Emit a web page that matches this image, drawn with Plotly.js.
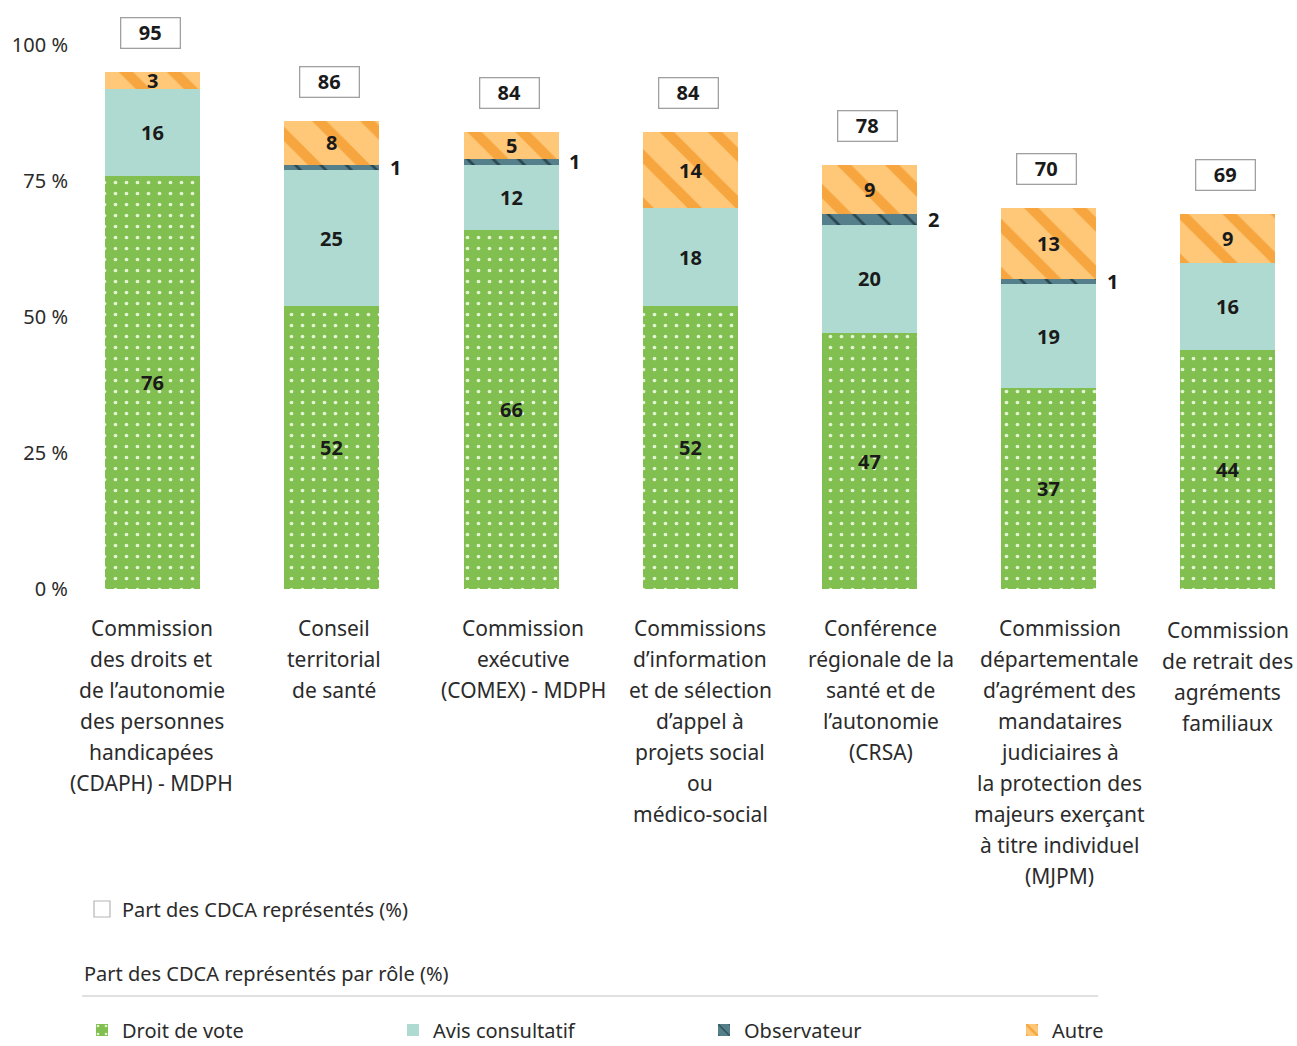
<!DOCTYPE html>
<html>
<head>
<meta charset="utf-8">
<script src="https://cdn.plot.ly/plotly-3.0.1.min.js"></script>
<style>html,body{margin:0;padding:0;background:#fff;}#chart{width:1297px;height:1046px;}</style>
</head>
<body>
<div id="chart"></div>
<script>
// ---------- DATA ----------
var categories = [
  "Commission<br>des droits et<br>de l’autonomie<br>des personnes<br>handicapées<br>(CDAPH) - MDPH",
  "Conseil<br>territorial<br>de santé",
  "Commission<br>exécutive<br>(COMEX) - MDPH",
  "Commissions<br>d’information<br>et de sélection<br>d’appel à<br>projets social<br>ou<br>médico-social",
  "Conférence<br>régionale de la<br>santé et de<br>l’autonomie<br>(CRSA)",
  "Commission<br>départementale<br>d’agrément des<br>mandataires<br>judiciaires à<br>la protection des<br>majeurs exerçant<br>à titre individuel<br>(MJPM)",
  "Commission<br>de retrait des<br>agréments<br>familiaux"
];
var droitDeVote      = [76, 52, 66, 52, 47, 37, 44];
var avisConsultatif  = [16, 25, 12, 18, 20, 19, 16];
var observateur      = [0, 1, 1, 0, 2, 1, 0];
var autre            = [3, 8, 5, 14, 9, 13, 9];
var totalRepresentes = [95, 86, 84, 84, 78, 70, 69];
var yTickValues = [0, 25, 50, 75, 100];
var yTickLabels = ["0 %", "25 %", "50 %", "75 %", "100 %"];
var seriesNames = ["Droit de vote", "Avis consultatif", "Observateur", "Autre"];
var totalLegendName = "Part des CDCA représentés (%)";
var roleLegendTitle = "Part des CDCA représentés par rôle (%)";

// ---------- LAYOUT GEOMETRY ----------
var W = 1297, H = 1046;
var mL = 99, mR = 0, mT = 45, mB = H - 589;
var plotW = W - mL - mR, plotH = H - mT - mB;
function pxX(px){ return (px - mL) / plotW; }
function pxY(py){ return (H - mB - py) / plotH; }
function cX(px){ return px / W; }
function cY(py){ return 1 - py / H; }

var FONT = "Noto Sans, Open Sans, sans-serif";
var TXT = "#2b2b2b";
var idx = categories.map(function(_, i){ return i; });
var labelShift = [-1, 2, 12, 10, 11, 11, 0];
var labelTop = [628, 628, 628, 628, 628, 628, 630];

var traces = [
  {type:"bar", name:seriesNames[0], x:idx, y:droitDeVote, legend:"legend2",
   marker:{color:"#80bf50", line:{width:0},
     pattern:{shape:".", bgcolor:"#80bf50", fgcolor:"#e4f3d4", fgopacity:1, size:11, solidity:0.09, fillmode:"replace"}},
   hoverinfo:"skip"},
  {type:"bar", name:seriesNames[1], x:idx, y:avisConsultatif, legend:"legend2",
   marker:{color:"#afdad2", line:{width:0}}, hoverinfo:"skip"},
  {type:"bar", name:seriesNames[2], x:idx, y:observateur, legend:"legend2",
   marker:{color:"#55808b", line:{width:0},
     pattern:{shape:"\\", bgcolor:"#55808b", fgcolor:"#2a474f", fgopacity:1, size:18, solidity:0.15, fillmode:"replace"}},
   hoverinfo:"skip"},
  {type:"bar", name:seriesNames[3], x:idx, y:autre, legend:"legend3",
   marker:{color:"#fec878", line:{width:0},
     pattern:{shape:"\\", bgcolor:"#fec878", fgcolor:"#f7a53e", fgopacity:1, size:34, solidity:0.3, fillmode:"replace"}},
   hoverinfo:"skip"},
  {type:"scatter", mode:"markers", name:totalLegendName, x:[null], y:[null], legend:"legend",
   marker:{symbol:"square", size:22, color:"#ffffff", line:{color:"#b5b5b5", width:1.2}}, hoverinfo:"skip"}
];

var annotations = [];
var series = [droitDeVote, avisConsultatif, observateur, autre];
idx.forEach(function(i){
  var base = 0;
  series.forEach(function(s, k){
    var v = s[i];
    if (v > 0) {
      var mid = base + v / 2;
      if (k === 2) {
        annotations.push({x:i, y:mid, xref:"x", yref:"y", text:"<b>"+v+"</b>", showarrow:false,
          xanchor:"left", xshift:56, font:{family:FONT, size:20, color:"#1a1a1a"}});
      } else {
        annotations.push({x:i, y:mid, xref:"x", yref:"y", text:"<b>"+v+"</b>", showarrow:false,
          font:{family:FONT, size:20, color:"#1a1a1a"}});
      }
    }
    base += v;
  });
  annotations.push({x:i, y:totalRepresentes[i], xref:"x", yref:"y", text:"<b>"+totalRepresentes[i]+"</b>",
    showarrow:false, yanchor:"bottom", yshift:23, xshift:-2, width:54, height:25, borderpad:2,
    bordercolor:"#a0a0a0", borderwidth:1.3, bgcolor:"#ffffff", font:{family:FONT, size:20, color:"#1a1a1a"}});
  categories[i].split("<br>").forEach(function(line, k){
    annotations.push({x:i, y:pxY(labelTop[i] + 31*k), xref:"x", yref:"paper", text:line, showarrow:false,
      xshift:labelShift[i], yanchor:"middle", font:{family:FONT, size:21, color:TXT}});
  });
});
annotations.push({x:pxX(82), y:pxY(973), xref:"paper", yref:"paper", text:roleLegendTitle, showarrow:false,
  xanchor:"left", yanchor:"middle", font:{family:FONT, size:20, color:TXT}});

var legendCommon = {orientation:"h", bgcolor:"rgba(0,0,0,0)", xref:"container", yref:"container",
  xanchor:"left", yanchor:"middle", font:{family:FONT, size:20, color:TXT}, itemwidth:30};

var layout = {
  width:W, height:H,
  margin:{l:mL, r:mR, t:mT, b:mB, pad:0, autoexpand:false},
  paper_bgcolor:"#ffffff", plot_bgcolor:"#ffffff",
  barmode:"stack", bargap:0.47,
  font:{family:FONT, color:TXT},
  xaxis:{type:"linear", range:[-0.3, (W - mL)/179.2 - 0.3], showticklabels:false, showgrid:false, zeroline:false, showline:false, ticks:"", fixedrange:true},
  yaxis:{range:[0,100], tickvals:yTickValues, ticktext:yTickLabels, showgrid:false, zeroline:false, showline:false, ticks:"",
    ticklabelstandoff:30, tickfont:{family:FONT, size:20, color:TXT}, fixedrange:true},
  showlegend:true,
  legend:Object.assign({}, legendCommon, {x:cX(82), y:cY(909)}),
  legend2:Object.assign({}, legendCommon, {x:cX(82), y:cY(1030), entrywidth:266, entrywidthmode:"pixels", traceorder:"normal"}),
  legend3:Object.assign({}, legendCommon, {x:cX(1012), y:cY(1030)}),
  shapes:[{type:"line", xref:"paper", yref:"paper", x0:pxX(82), x1:pxX(1098), y0:pxY(996), y1:pxY(996),
    line:{color:"#d6d6d6", width:1.5}}],
  annotations:annotations
};

Plotly.newPlot("chart", traces, layout, {displayModeBar:false, staticPlot:true});
</script>
</body>
</html>
